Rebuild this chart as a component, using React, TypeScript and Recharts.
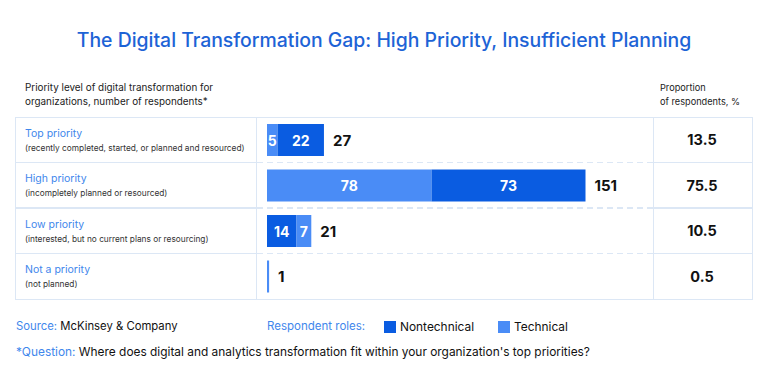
import React from 'react';
import { BarChart, Bar, XAxis, YAxis, Cell, LabelList } from 'recharts';

const categories = ['Top priority', 'High priority', 'Low priority', 'Not a priority'];
const descriptions = [
  '(recently completed, started, or planned and resourced)',
  '(incompletely planned or resourced)',
  '(interested, but no current plans or resourcing)',
  '(not planned)',
];
const nontechnical = [22, 73, 14, 0];
const technical = [5, 78, 7, 1];
const technicalFirst = [true, true, false, true];
const proportions = ['13.5', '75.5', '10.5', '0.5'];
const roles = ['Nontechnical', 'Technical'];

const FONT = 'Inter, "Noto Sans", sans-serif';
const COLORS: Record<string, string> = { Nontechnical: '#0a5ce1', Technical: '#4a8cf6' };
const LABEL_BLUE = '#3f87ec';
const TITLE_BLUE = '#1d63d6';
const LINE = '#dce7f5';

const data = categories.map((name, i) => {
  const tf = technicalFirst[i];
  return {
    name,
    desc: descriptions[i],
    proportion: proportions[i],
    first: tf ? technical[i] : nontechnical[i],
    second: tf ? nontechnical[i] : technical[i],
    firstRole: tf ? 'Technical' : 'Nontechnical',
    secondRole: tf ? 'Nontechnical' : 'Technical',
    total: technical[i] + nontechnical[i],
  };
});

const LeftTick = (props: any) => {
  const { y, payload } = props;
  const row = data.find((d) => d.name === payload.value);
  return (
    <g>
      <text x={25} y={y - 6.5} dominantBaseline="central" fill={LABEL_BLUE} fontSize={10.5} fontFamily={FONT}>
        {payload.value}
      </text>
      <text x={25} y={y + 8} dominantBaseline="central" fill="#333" fontSize={8.3} fontFamily={FONT}>
        {row ? row.desc : ''}
      </text>
    </g>
  );
};

const RightTick = (props: any) => {
  const { y, payload } = props;
  return (
    <text x={702} y={y} dominantBaseline="central" textAnchor="middle" fill="#111" fontSize={14.5} fontWeight={700} fontFamily={FONT}>
      {payload.value}
    </text>
  );
};

const InsideLabel = (props: any) => {
  const { x, y, width, height, value } = props;
  if (!value || width < 8) return null;
  return (
    <text x={x + width / 2} y={y + height / 2} dominantBaseline="central" textAnchor="middle" fill="#fff" fontSize={14} fontWeight={700} fontFamily={FONT}>
      {value}
    </text>
  );
};

const TotalLabel = (props: any) => {
  const { x, y, width, height, value } = props;
  if (value === null || value === undefined) return null;
  return (
    <text x={x + width + 9} y={y + height / 2} dominantBaseline="central" fill="#111" fontSize={15} fontWeight={700} fontFamily={FONT}>
      {value}
    </text>
  );
};

const totalIfLast = (d: any) => (d.second ? null : d.total);
const totalIfSecond = (d: any) => (d.second ? d.total : null);

const rowLines = [1, 2, 3].map((k) => 117 + k * 45.5);

export default function App() {
  return (
    <div style={{ position: 'absolute', left: 0, top: 0, width: 768, height: 386, background: '#fff', fontFamily: FONT, overflow: 'hidden' }}>
      <div style={{ position: 'absolute', left: 0, top: 28, width: 768, textAlign: 'center', color: TITLE_BLUE, fontSize: 19.4, fontWeight: 500 }}>
        The Digital Transformation Gap: High Priority, Insufficient Planning
      </div>
      <div style={{ position: 'absolute', left: 25, top: 81, fontSize: 9.9, lineHeight: '13.5px', color: '#222' }}>
        Priority level of digital transformation for
        <br />
        organizations, number of respondents*
      </div>
      <div style={{ position: 'absolute', left: 660, top: 81, fontSize: 9.2, lineHeight: '13.5px', color: '#222' }}>
        Proportion
        <br />
        of respondents, %
      </div>

      {/* table frame */}
      <div style={{ position: 'absolute', left: 15, top: 117, width: 738, height: 183, border: `1.5px solid ${LINE}`, boxSizing: 'border-box' }} />
      <div style={{ position: 'absolute', left: 255.5, top: 117, width: 1.5, height: 183, background: LINE }} />
      <div style={{ position: 'absolute', left: 652.5, top: 117, width: 1.5, height: 183, background: LINE }} />
      {rowLines.map((yy, i) => (
        <React.Fragment key={i}>
          <div style={{ position: 'absolute', left: 15, top: yy - 0.75, width: 241, height: 1.5, background: LINE }} />
          <div style={{ position: 'absolute', left: 653, top: yy - 0.75, width: 100, height: 1.5, background: LINE }} />
          <div
            style={{
              position: 'absolute',
              left: 257,
              top: yy - 0.75,
              width: 396,
              height: 1.5,
              backgroundImage: `repeating-linear-gradient(to right, ${LINE} 0px, ${LINE} 6px, transparent 6px, transparent 10px)`,
            }}
          />
        </React.Fragment>
      ))}

      <div style={{ position: 'absolute', left: 0, top: 0 }}>
        <BarChart width={768} height={386} data={data} layout="vertical" margin={{ top: 117, right: 16, bottom: 87, left: 16 }}>
          <XAxis type="number" domain={[0, 183]} hide padding={{ left: 11, right: 0 }} allowDataOverflow />
          <YAxis yAxisId="left" type="category" dataKey="name" width={240} tickLine={false} axisLine={false} tick={<LeftTick />} interval={0} />
          <YAxis yAxisId="right" orientation="right" type="category" dataKey="proportion" width={99} tickLine={false} axisLine={false} tick={<RightTick />} interval={0} />
          <Bar dataKey="first" stackId="a" yAxisId="left" barSize={32} isAnimationActive={false}>
            {data.map((d, i) => (
              <Cell key={i} fill={COLORS[d.firstRole]} />
            ))}
            <LabelList dataKey="first" content={<InsideLabel />} />
            <LabelList dataKey={totalIfLast} content={<TotalLabel />} />
          </Bar>
          <Bar dataKey="second" stackId="a" yAxisId="left" barSize={32} isAnimationActive={false}>
            {data.map((d, i) => (
              <Cell key={i} fill={COLORS[d.secondRole]} />
            ))}
            <LabelList dataKey="second" content={<InsideLabel />} />
            <LabelList dataKey={totalIfSecond} content={<TotalLabel />} />
          </Bar>
        </BarChart>
      </div>

      <div style={{ position: 'absolute', left: 16, top: 319, fontSize: 11.3, color: '#111', whiteSpace: 'nowrap' }}>
        <span style={{ color: LABEL_BLUE }}>Source:</span> McKinsey &amp; Company
      </div>
      <div style={{ position: 'absolute', left: 267, top: 319, fontSize: 11.5, color: LABEL_BLUE, whiteSpace: 'nowrap' }}>
        Respondent roles:
      </div>
      {roles.map((r, i) => (
        <div key={r} style={{ position: 'absolute', left: i === 0 ? 384 : 498, top: 319, display: 'flex', alignItems: 'center', fontSize: 11.9, color: '#111', whiteSpace: 'nowrap' }}>
          <span style={{ display: 'inline-block', width: 12, height: 12, background: COLORS[r], marginRight: 4 }} />
          {r}
        </div>
      ))}
      <div style={{ position: 'absolute', left: 16, top: 344, fontSize: 11.9, color: '#111', whiteSpace: 'nowrap' }}>
        <span style={{ color: LABEL_BLUE }}>*Question:</span> Where does digital and analytics transformation fit within your organization&apos;s top priorities?
      </div>
    </div>
  );
}
